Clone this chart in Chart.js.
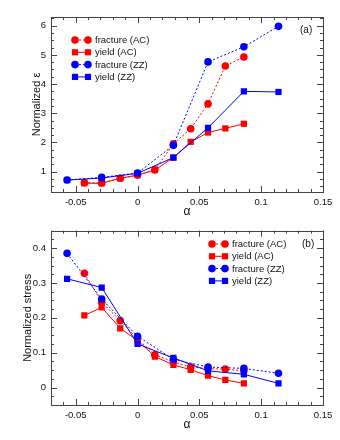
<!DOCTYPE html>
<html>
<head>
<meta charset="utf-8">
<script src="https://cdn.jsdelivr.net/npm/chart.js@4/dist/chart.umd.min.js"></script>
<style>
    html, body { margin: 0; padding: 0; background: #fff; }
    .panel { position: relative; width: 340px; height: 220px; }
</style>
</head>
<body>
<div class="panel"><canvas id="strainChart"></canvas></div>
<div class="panel"><canvas id="stressChart"></canvas></div>
<script>
// alpha positions of the samples
const alphaAC = [-0.043, -0.029, -0.014, 0, 0.014, 0.029, 0.043, 0.057, 0.071, 0.086];
const alphaZZ = [-0.057, -0.029, 0, 0.029, 0.057, 0.086, 0.114];

// (a) normalized strain
const strainFractureAC = [0.62, 0.61, 0.77, 0.88, 1.06, 1.95, 2.47, 3.32, 4.62, 4.93];
const strainYieldAC    = [0.60, 0.60, 0.77, 0.88, 1.05, 1.48, 2.02, 2.34, 2.48, 2.64];
const strainFractureZZ = [0.71, 0.80, 0.95, 1.90, 4.76, 5.28, 5.98];
const strainYieldZZ    = [0.71, 0.78, 0.94, 1.48, 2.50, 3.75, 3.73];

// (b) normalized stress
const stressFractureAC = [0.328, 0.245, 0.192, 0.140, 0.094, 0.074, 0.059, 0.054, 0.053, 0.048];
const stressYieldAC    = [0.207, 0.230, 0.170, 0.135, 0.089, 0.065, 0.051, 0.034, 0.022, 0.012];
const stressFractureZZ = [0.385, 0.254, 0.147, 0.081, 0.059, 0.055, 0.041];
const stressYieldZZ    = [0.312, 0.287, 0.125, 0.085, 0.048, 0.038, 0.012];

const seriesNames = ['fracture (AC)', 'yield (AC)', 'fracture (ZZ)', 'yield (ZZ)'];
const xTicks = [-0.05, 0, 0.05, 0.1, 0.15];
const xTickLabels = ['-0.05', '0', '0.05', '0.1', '0.15'];
const strainTicks = [1, 2, 3, 4, 5, 6];
const stressTicks = [0, 0.1, 0.2, 0.3, 0.4];
const stressTickLabels = ['0', '0.1', '0.2', '0.3', '0.4'];

const FONT = "'Liberation Sans', Arial, sans-serif";
const RED = '#ff0000';
const BLUE = '#0000ff';

function points(xs, ys) {
    return xs.map((x, i) => ({ x: x, y: ys[i] }));
}

function series(label, xs, ys, color, style, dashed, order) {
    return {
        label: label,
        data: points(xs, ys),
        borderColor: color,
        backgroundColor: color,
        borderWidth: 1,
        borderDash: dashed ? [2, 2] : [],
        pointStyle: style,
        pointRadius: style === 'rect' ? 4.4 : 3.8,
        pointBorderWidth: 0,
        pointBackgroundColor: color,
        tension: 0,
        order: order
    };
}

// frame with inward ticks on all four sides
const framePlugin = {
    id: 'frame',
    afterDraw(chart, args, o) {
        const { ctx, chartArea: a, scales } = chart;
        ctx.save();
        ctx.strokeStyle = '#444';
        ctx.lineWidth = 1;
        ctx.strokeRect(Math.round(a.left) + 0.5, Math.round(a.top) + 0.5,
            Math.round(a.width), Math.round(a.height));
        const mark = (scale, step, len) => {
            const n0 = Math.ceil(scale.min / step - 1e-6);
            const n1 = Math.floor(scale.max / step + 1e-6);
            for (let i = n0; i <= n1; i++) {
                const p = Math.round(scale.getPixelForValue(i * step)) + 0.5;
                ctx.beginPath();
                if (scale.isHorizontal()) {
                    ctx.moveTo(p, a.bottom); ctx.lineTo(p, a.bottom - len);
                    ctx.moveTo(p, a.top); ctx.lineTo(p, a.top + len);
                } else {
                    ctx.moveTo(a.left, p); ctx.lineTo(a.left + len, p);
                    ctx.moveTo(a.right, p); ctx.lineTo(a.right - len, p);
                }
                ctx.stroke();
            }
        };
        mark(scales.x, o.xMinor, 3);
        mark(scales.x, o.xMajor, 6);
        mark(scales.y, o.yMinor, 3);
        mark(scales.y, o.yMajor, 6);
        ctx.restore();
    }
};

// legend: marker - line - marker, then the name
const keyPlugin = {
    id: 'key',
    afterDraw(chart, args, o) {
        const ctx = chart.ctx;
        ctx.save();
        chart.data.datasets.forEach((ds, i) => {
            const y = o.y + i * o.gap;
            ctx.strokeStyle = ds.borderColor;
            ctx.fillStyle = ds.backgroundColor;
            ctx.lineWidth = 1;
            ctx.setLineDash(ds.borderDash);
            ctx.beginPath();
            ctx.moveTo(o.x1, y);
            ctx.lineTo(o.x2, y);
            ctx.stroke();
            ctx.setLineDash([]);
            [o.x1, o.x2].forEach(px => {
                Chart.helpers.drawPoint(ctx, {
                    pointStyle: ds.pointStyle, radius: ds.pointRadius,
                    rotation: 0, borderWidth: 0
                }, px, y);
            });
            ctx.fillStyle = '#111';
            ctx.font = '9.5px ' + FONT;
            ctx.textBaseline = 'middle';
            ctx.textAlign = 'left';
            ctx.fillText(ds.label, o.textX, y + 0.5);
        });
        ctx.font = '10px ' + FONT;
        ctx.fillStyle = '#111';
        ctx.textAlign = 'left';
        ctx.textBaseline = 'middle';
        ctx.fillText(o.tag, o.tagX, o.tagY);
        ctx.restore();
    }
};

function makeChart(id, datasets, y, cfg) {
    const ctx = document.getElementById(id).getContext('2d');
    return new Chart(ctx, {
        type: 'line',
        data: { datasets: datasets },
        plugins: [framePlugin, keyPlugin],
        options: {
            responsive: true,
            maintainAspectRatio: false,
            animation: false,
            layout: { padding: { left: 0, right: 17, top: cfg.top, bottom: 0 } },
            plugins: {
                legend: { display: false },
                tooltip: { enabled: false },
                frame: { xMajor: 0.05, xMinor: 0.01, yMajor: cfg.yMajor, yMinor: cfg.yMinor },
                key: cfg.key
            },
            scales: {
                x: {
                    type: 'linear',
                    min: -0.07,
                    max: 0.15,
                    grid: { display: false, drawTicks: false },
                    border: { display: false },
                    afterBuildTicks: s => { s.ticks = xTicks.map(v => ({ value: v })); },
                    afterFit: s => { s.height = cfg.xHeight; },
                    ticks: {
                        padding: 5,
                        color: '#111',
                        font: { family: FONT, size: 9.5 },
                        maxRotation: 0,
                        callback: v => xTickLabels[xTicks.indexOf(v)]
                    },
                    title: {
                        display: true,
                        text: 'α',
                        color: '#111',
                        font: { family: FONT, size: 12 },
                        padding: { top: 0, bottom: cfg.alphaPad }
                    }
                },
                y: {
                    type: 'linear',
                    min: y.min,
                    max: y.max,
                    grid: { display: false, drawTicks: false },
                    border: { display: false },
                    afterBuildTicks: s => { s.ticks = y.ticks.map(v => ({ value: v })); },
                    afterFit: s => { s.width = 51; },
                    ticks: {
                        padding: 5,
                        color: '#111',
                        font: { family: FONT, size: 9.5 },
                        callback: v => y.labels[y.ticks.indexOf(v)]
                    },
                    title: {
                        display: true,
                        text: y.title,
                        color: '#111',
                        font: { family: FONT, size: 11 },
                        padding: { top: cfg.titlePad, bottom: 0 }
                    }
                }
            }
        }
    });
}

makeChart('strainChart', [
    series(seriesNames[0], alphaAC, strainFractureAC, RED, 'circle', true, 4),
    series(seriesNames[1], alphaAC, strainYieldAC, RED, 'rect', false, 3),
    series(seriesNames[2], alphaZZ, strainFractureZZ, BLUE, 'circle', true, 2),
    series(seriesNames[3], alphaZZ, strainYieldZZ, BLUE, 'rect', false, 1)
], {
    min: 0.3, max: 6.3, ticks: strainTicks, labels: strainTicks.map(String), title: 'Normalized ε'
}, {
    top: 17, xHeight: 28, alphaPad: 1.5, yMajor: 1, yMinor: 0.25, titlePad: 30,
    key: { x1: 75, x2: 88, textX: 95, y: 40, gap: 12.3, tag: '(a)', tagX: 300, tagY: 30 }
});

makeChart('stressChart', [
    series(seriesNames[0], alphaAC, stressFractureAC, RED, 'circle', true, 4),
    series(seriesNames[1], alphaAC, stressYieldAC, RED, 'rect', false, 3),
    series(seriesNames[2], alphaZZ, stressFractureZZ, BLUE, 'circle', true, 2),
    series(seriesNames[3], alphaZZ, stressYieldZZ, BLUE, 'rect', false, 1)
], {
    min: -0.05, max: 0.45, ticks: stressTicks, labels: stressTickLabels, title: 'Normalized stress'
}, {
    top: 8, xHeight: 35, alphaPad: 8.4, yMajor: 0.1, yMinor: 0.025, titlePad: 21,
    key: { x1: 212, x2: 225, textX: 232, y: 24, gap: 12.3, tag: '(b)', tagX: 302, tagY: 24 }
});
</script>
</body>
</html>
